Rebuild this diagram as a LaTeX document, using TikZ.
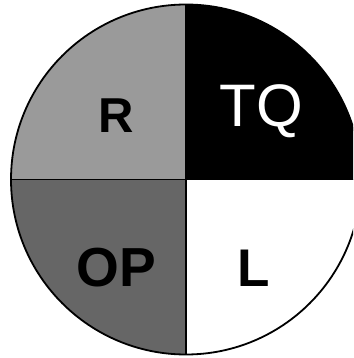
\documentclass[tikz,border=0pt]{standalone}
\usepackage{fontspec}
\setmainfont{Liberation Sans}
\usetikzlibrary{calc}
\definecolor{lgray}{HTML}{9A9A9A}
\definecolor{dgray}{HTML}{666666}
\begin{document}
\begin{tikzpicture}[x=1pt,y=1pt,
  lab/.style={inner sep=0pt, anchor=base},
  edge/.style={line width=1.8pt, black}]
\useasboundingbox (0,0) rectangle (353,-358);
\clip (0,0) rectangle (353,-358);
\coordinate (c) at (186,-179.5);
\def\rr{175}
\fill[lgray] (c) -- ++(-\rr,0) arc[start angle=180,end angle=90,radius=\rr] -- cycle;
\fill[black] (c) -- ++(0,\rr) arc[start angle=90,end angle=0,radius=\rr] -- cycle;
\fill[dgray] (c) -- ++(-\rr,0) arc[start angle=180,end angle=270,radius=\rr] -- cycle;
\fill[white] (c) -- ++(0,-\rr) arc[start angle=270,end angle=360,radius=\rr] -- cycle;
\coordinate (top) at ($(c)+(0,\rr)$);
\coordinate (bot) at ($(c)+(0,-\rr)$);
\coordinate (lft) at ($(c)+(-\rr,0)$);
\coordinate (rgt) at ($(c)+(\rr,0)$);
\draw[edge] (top) -- (bot);
\draw[edge] (lft) -- (rgt);
\draw[edge] (c) circle[radius=\rr];
\node[lab, font=\bfseries\fontsize{49}{49}\selectfont] (r) at (116,-133) {R};
\node[lab, font=\fontsize{60}{60}\selectfont, text=white] (tq) at (261,-127) {TQ};
\node[lab, font=\bfseries\fontsize{55}{55}\selectfont] (op) at (116.5,-286) {OP};
\node[lab, font=\bfseries\fontsize{53}{53}\selectfont] (l) at (254,-286) {L};
\end{tikzpicture}
\end{document}
